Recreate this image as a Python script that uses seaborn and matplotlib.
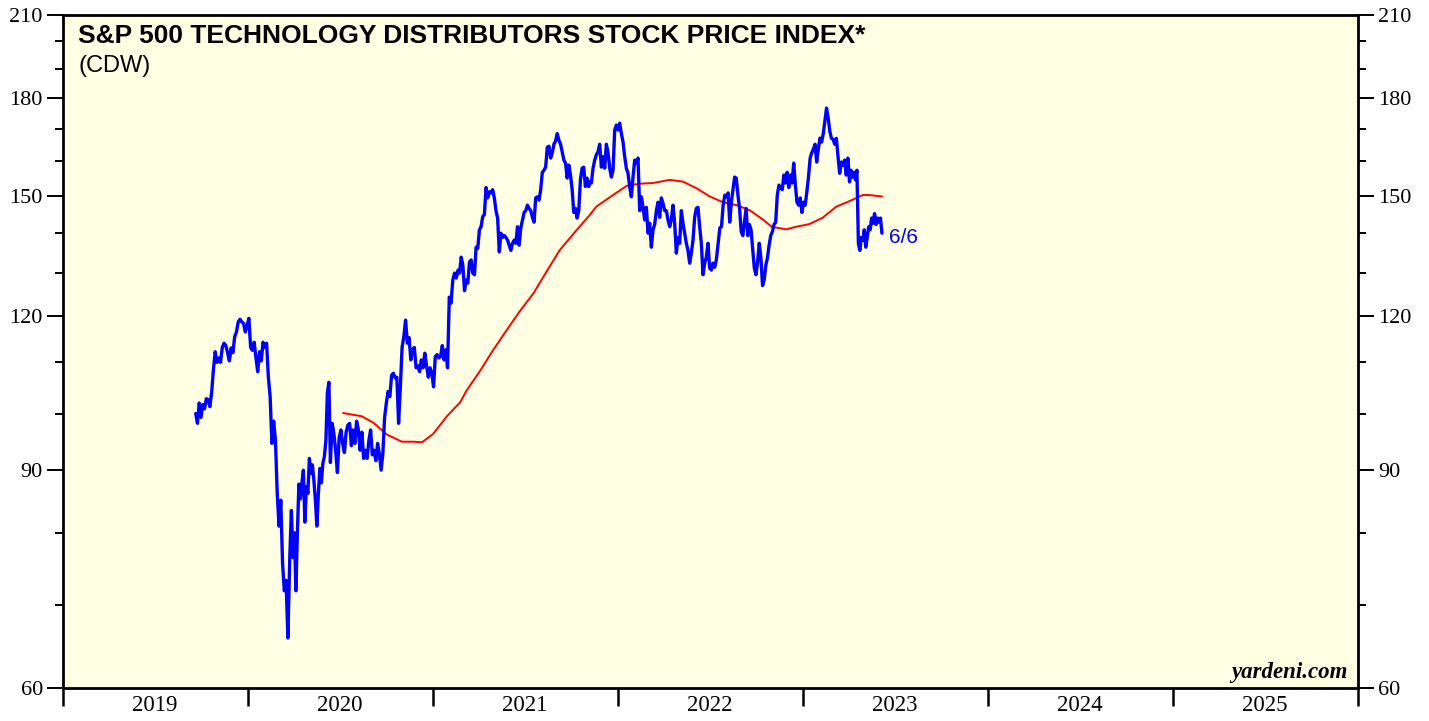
import pandas as pd
import seaborn as sns
import matplotlib.pyplot as plt
import matplotlib.dates as mdates
from matplotlib.ticker import FixedLocator, FixedFormatter, NullFormatter

# CDW index (each piece evenly spaced in time)
px_a = [100, 98.2, 102, 99.3, 101.7, 100.9, 102.8, 102.6, 101.3, 104,
        108.5, 112.2, 110, 110.9, 110, 113.1, 114, 113.5, 112, 110.3,
        113, 112, 115.4, 116.4, 118.6, 119.2, 118.6, 118.3, 116.4, 117.8,
        119.4, 113.1, 112.5, 114.2, 110.9, 108.1, 112.2, 110.3, 114.2, 113.1,
        114, 107, 103.2, 94.6, 98.6, 95.1, 86.2, 81.1, 85.1, 75.7,
        71.9, 73.3, 65.85]
px_a2 = [77.1, 83.5, 76.5, 80.1, 71.9, 80.1, 87.7,
         85.3, 87.9, 90, 81.7, 87.3, 86.2, 92, 89.5, 90.9, 88.3,
         85.1, 81.1, 86.2, 90.3, 87.9, 91.2, 92.3, 95.1, 104, 106]
px_b = [91.3, 98.2, 96.3, 93.4, 89.6, 95.6, 97, 94.6, 93, 96.6,
        97.9, 98.2, 94.2, 97, 94.6, 98.6, 97, 93.4, 96.6, 92,
        93.4, 92, 95.1, 97, 92.6, 93.4, 91.6, 94.6, 92.8, 90,
        92.8, 99.3, 102, 104.2, 103.2, 107.4, 107.8, 106.9, 107, 98.2,
        105, 113.1, 115.4, 119, 114, 115.2, 110.5, 112.6, 113.1, 108.9,
        109.3, 108.1, 110.5, 108.9, 111.9, 109.3, 107, 108.9, 107.8, 105.1,
        111.2, 111.6, 110.9, 111.2, 113.5, 110.5, 112.6, 108.9, 124.2, 122.8,
        128.2, 129.9, 128.7, 130.6]
px_c = [129.9, 133.8, 131.8, 125.7, 128.2, 127.5, 132.6, 133.1, 129.9, 129.5,
        136.3, 136.0, 140.8, 141.6, 144.3, 144.8, 152.3, 149.4, 151.1, 150.8,
        151.7, 149.4, 145.9, 143.9, 135.1, 139.9, 138.8, 139.3, 138.8, 138.1,
        136.8, 135.5, 137.3, 138.1, 137.3, 141.6, 136.8, 141.3, 143.4, 145.4,
        145.9, 147.4, 146.5, 145.9, 144.1, 142.8, 149.4, 149.7, 148.8, 151.7,
        156.7, 157.3, 158.2, 164.2, 164.5, 160.9, 162.5, 165.1, 166.1, 168.4,
        166.4, 165.1, 162.8, 160.3, 159.4, 155, 158.8, 155.9, 151.7, 145.4,
        146.5, 143.9, 145.9, 154.5, 157.9, 158.2, 152.6, 155, 152.6]
px_d = [153.9, 153.6, 157.9, 160.3, 161.9, 162.8, 165.1, 158.2, 161.3, 157.9,
        165.1, 162.5, 157.9, 155.3, 157.3, 169.5, 171.1, 169.5, 171.7, 168.4,
        165.8, 161.3, 157.9, 156.4, 152.6, 149.7, 155.3, 160.3, 159.4, 160.9,
        145.9, 149.7, 146.8, 143.4, 146.8, 139.9, 142.5, 136.3, 140.8, 142.2,
        145.9, 148.2, 144.1, 149.4, 147.9, 145.9, 145.9, 143.4, 141.6, 143.4,
        147.4, 142.5, 134.8, 138.8, 137.3, 145.9, 142.5, 139.9, 137.3, 135.5,
        132.3, 134.8, 138.1, 144.1, 146.5, 146.8, 141.6, 137.3, 129.5, 132.3,
        133.8, 137.3, 131.1, 130.6, 132.3, 131.3, 133.1]
px_e = [141.3, 141.6, 147.4, 150.2, 149.7, 150.8, 142.8, 148.2, 151.7, 155.3,
        155, 150.2, 146.5, 140.3, 139.3, 142.8, 146.5, 139.3, 142.2, 140.8,
        136, 131.1, 129.5, 132.6, 137.3, 133.6, 126.9, 128.2, 131.8, 133.6,
        136.8, 139.3, 140.3, 142.2, 142.8, 150.2, 153, 152.3, 151.7, 155.9,
        153.6, 156.7, 152.3, 155.9, 153.6, 159.4, 153, 148.2, 147.4, 149.4,
        145.4, 148.2, 147.4, 151.1, 155.3, 160.9, 162.5, 163.6, 165.1, 159.7,
        163.6, 167, 165.8, 168.4, 172.4, 176.6, 173.3, 169.1, 166.9, 166.6,
        165.1, 166.9, 161.3, 156.4, 159.7, 158.8, 160.3, 155.9, 160.9, 153.9]
px_f = [157.3, 155.3, 156.7, 154.5, 157.3, 137.3, 135.5, 138.8, 138.1, 140.8,
        136.3, 138.8, 141.6, 140.8, 143.9, 142.5, 145.1, 142.2, 143.9, 142.8,
        143.9, 139.9]
piece_dates = [("2019-09-20", "2020-03-20"), ("2020-03-24", "2020-06-09"),
               ("2020-06-12", "2021-02-19"), ("2021-02-22", "2021-11-04"),
               ("2021-11-06", "2022-07-14"), ("2022-07-21", "2023-04-03"),
               ("2023-04-06", "2023-06-06")]

# 52-week moving average (red)
ma_dates = ["2020-07-07", "2020-08-13", "2020-09-05", "2020-10-01", "2020-10-31",
            "2020-11-23", "2020-12-10", "2021-01-01", "2021-01-28", "2021-02-23",
            "2021-03-08", "2021-04-03", "2021-04-29", "2021-05-26", "2021-06-21",
            "2021-07-18", "2021-08-13", "2021-09-08", "2021-10-11", "2021-11-06",
            "2021-11-19", "2021-12-22", "2022-01-18", "2022-02-13", "2022-03-11",
            "2022-04-13", "2022-05-09", "2022-06-05", "2022-07-01", "2022-07-27",
            "2022-08-23", "2022-09-18", "2022-10-14", "2022-10-31", "2022-11-29",
            "2022-12-19", "2023-01-14", "2023-02-09", "2023-03-08", "2023-04-03",
            "2023-04-29", "2023-05-12", "2023-06-06"]
ma_values = [100.1, 99.5, 98.3, 96.2, 94.9, 94.9, 94.8, 96.3, 99.5, 102.1,
             104.4, 108.2, 112.5, 116.8, 121, 125.1, 130.3, 135.6, 140.7, 144.7,
             147.0, 150.2, 152.8, 153.4, 153.6, 154.5, 154, 152.1, 149.8, 148.2,
             147.4, 146, 143.5, 141.6, 140.9, 141.6, 142.3, 144, 147, 148.5,
             150.2, 150.2, 149.8]

y_major = [60, 90, 120, 150, 180, 210]
y_minor = [70, 80, 100, 110, 130, 140, 160, 170, 190, 200]

pieces = [px_a, px_a2, px_b, px_c, px_d, px_e, px_f]
frames = []
for vals, (start, end) in zip(pieces, piece_dates):
    frames.append(pd.DataFrame({"date": pd.date_range(start, end, periods=len(vals)),
                                "price": vals}))
cdw = pd.concat(frames, ignore_index=True)
ma = pd.DataFrame({"date": pd.to_datetime(ma_dates), "ma": ma_values})

sns.set_style("ticks")
plt.rcParams["font.family"] = ["Liberation Serif", "DejaVu Serif"]
plt.rcParams["text.color"] = "black"
sans = ["Liberation Sans", "DejaVu Sans"]

fig = plt.figure(figsize=(14.29, 7.21), dpi=100)
ax = fig.add_axes([63 / 1429, 33 / 721, 1295 / 1429, 673 / 721])
ax.set_facecolor("#FFFFE3")

sns.lineplot(data=ma, x="date", y="ma", ax=ax, color="#FF0000", lw=1.4)
sns.lineplot(data=cdw, x="date", y="price", ax=ax, color="#0000FF", lw=2.4)

ax.set_yscale("log")
ax.set_ylim(60, 210)
ax.set_xlim(pd.Timestamp("2019-01-01"), pd.Timestamp("2026-01-01"))
ax.set_xlabel("")
ax.set_ylabel("")

ax.yaxis.set_major_locator(FixedLocator(y_major))
ax.yaxis.set_major_formatter(FixedFormatter([str(v) for v in y_major]))
ax.yaxis.set_minor_locator(FixedLocator(y_minor))
ax.yaxis.set_minor_formatter(NullFormatter())
ax.tick_params(axis="y", which="both", left=True, right=True,
               labelleft=True, labelright=True, direction="out",
               color="black", labelcolor="black", width=1.4, labelsize=16)
ax.tick_params(axis="y", which="major", length=11.5, pad=3)
ax.tick_params(axis="y", which="minor", length=5.8)

ax.xaxis.set_major_locator(mdates.YearLocator())
ax.xaxis.set_major_formatter(NullFormatter())
ax.xaxis.set_minor_locator(mdates.MonthLocator(bymonth=7, bymonthday=1))
ax.xaxis.set_minor_formatter(mdates.DateFormatter("%Y"))
ax.tick_params(axis="x", which="major", length=13, width=1.8, color="black")
ax.tick_params(axis="x", which="minor", length=0, labelsize=16.5,
               labelcolor="black", pad=5)

for s in ax.spines.values():
    s.set_linewidth(2)
    s.set_color("black")

ax.text(0.0116, 0.958, "S&P 500 TECHNOLOGY DISTRIBUTORS STOCK PRICE INDEX*",
        transform=ax.transAxes, family=sans, fontsize=19, fontweight="bold",
        color="black", va="baseline", ha="left")
ax.text(0.0116, 0.915, "(CDW)", transform=ax.transAxes, family=sans,
        fontsize=17, color="black", va="baseline", ha="left")
last = cdw.iloc[-1]
ax.annotate("6/6", xy=(last["date"], last["price"]), xytext=(5, -3),
            textcoords="offset points", family=sans, fontsize=15,
            color="#0000FF", va="center", ha="left")
ax.text(0.992, 0.015, "yardeni.com", transform=ax.transAxes, fontsize=16.5,
        fontweight="bold", style="italic", color="black",
        va="baseline", ha="right")

fig.savefig("out.png", dpi=100)
